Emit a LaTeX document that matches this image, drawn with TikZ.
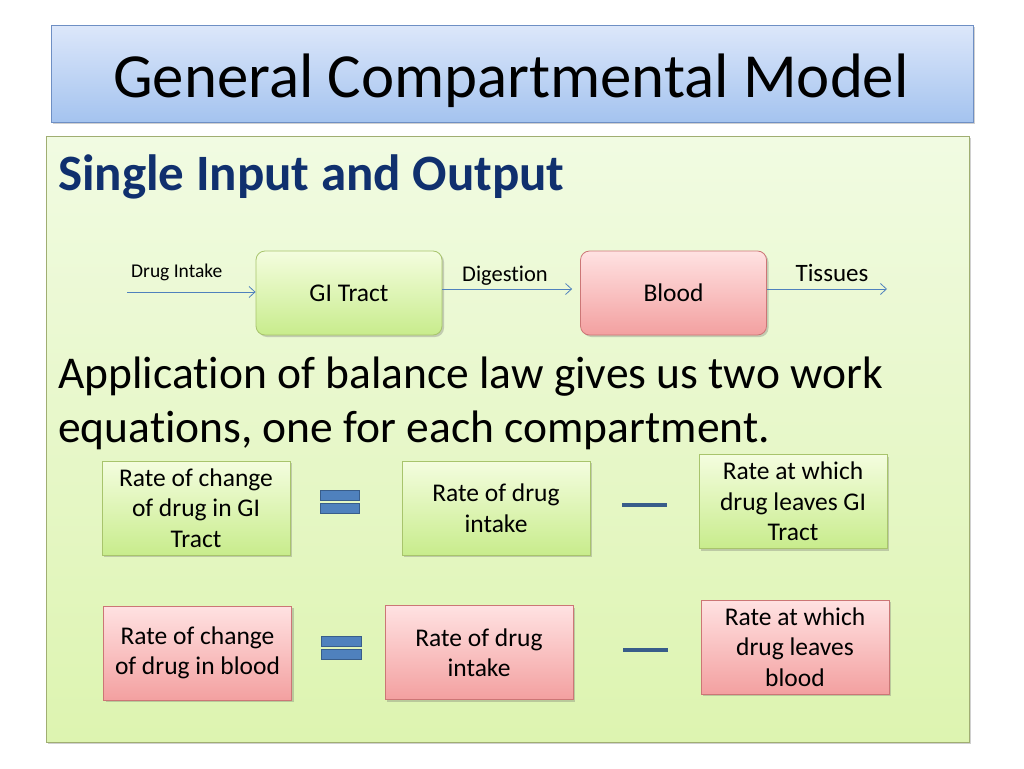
\documentclass[tikz,border=0pt]{standalone}
\usepackage{fontspec}
\setmainfont{Carlito}[Ligatures=CommonOff]
\usetikzlibrary{shadows,arrows.meta}
\definecolor{titletop}{HTML}{DCE7FA}
\definecolor{titlebot}{HTML}{A4C3EF}
\definecolor{titleborder}{HTML}{6E8FC4}
\definecolor{paneltop}{HTML}{F1FBE2}
\definecolor{panelbot}{HTML}{DDF4B0}
\definecolor{panelborder}{HTML}{A0AE72}
\definecolor{grtop}{HTML}{F4FDDF}
\definecolor{grbot}{HTML}{C8EC8C}
\definecolor{grborder}{HTML}{A8C46C}
\definecolor{pktop}{HTML}{FFE2E2}
\definecolor{pkbot}{HTML}{F3A0A0}
\definecolor{pkborder}{HTML}{CC7676}
\definecolor{navy}{HTML}{10306E}
\definecolor{arrowblue}{HTML}{4F81BD}
\definecolor{eqborder}{HTML}{385D8A}
\tikzset{
  x=1pt, y=-1pt,
  shad/.style={drop shadow={shadow xshift=2pt, shadow yshift=-2pt, opacity=0.3, fill=black!60}},
  greenbox/.style={shad, draw=grborder, line width=0.8pt, top color=grtop, bottom color=grbot},
  pinkbox/.style={shad, draw=pkborder, line width=0.8pt, top color=pktop, bottom color=pkbot},
  compbox/.style={rounded corners=9pt, minimum width=186pt, minimum height=84pt, inner sep=0pt,
    font=\fontsize{25.5}{28}\selectfont},
  eqbox/.style={minimum width=188pt, minimum height=94pt, inner sep=0pt, align=center,
    font=\fontsize{25.5}{30.5}\selectfont},
  flow/.style={draw=arrowblue, line width=0.8pt, -{Straight Barb[length=6pt,width=11pt,line width=0.8pt]}},
  lbl/.style={inner sep=0pt, text=black},
  eqbar/.style={draw=eqborder, fill=arrowblue, line width=1pt},
}
\begin{document}
\begin{tikzpicture}
\useasboundingbox (0,0) rectangle (1024,768);
\fill[white] (0,0) rectangle (1024,768);
% title
\node[shad, draw=titleborder, line width=0.8pt, top color=titletop, bottom color=titlebot,
  minimum width=922pt, minimum height=97pt, inner sep=0pt, anchor=north west] (title) at (51,25) {};
\node[lbl, anchor=base, font=\fontsize{62.8}{66}\selectfont] (ttext) at (511,97) {General Compartmental Model};
% panel
\node[shad, draw=panelborder, line width=0.8pt, top color=paneltop, bottom color=panelbot,
  minimum width=923pt, minimum height=606pt, inner sep=0pt, anchor=north west] (panel) at (46,136) {};
\node[lbl, anchor=base west, text=navy, font=\fontsize{51}{54}\selectfont\bfseries] (head) at (58,190.5) {Single Input and Output};
% flow
\node[greenbox, compbox] (gi) at (349,293) {GI Tract};
\node[pinkbox, compbox] (blood) at (673.5,293) {Blood};
\coordinate (in) at (127,292);
\coordinate (tis) at (887,289);
\draw[flow] (in) -- (in -| gi.west);
\draw[flow] ([yshift=4pt]gi.east) -- ([xshift=-8pt,yshift=4pt]blood.west);
\draw[flow] ([yshift=4pt]blood.east) -- (tis);
\node[lbl, anchor=base west, font=\fontsize{19.5}{21}\selectfont] (lin) at (131,277) {Drug Intake};
\node[lbl, anchor=base, font=\fontsize{22.5}{24}\selectfont] (ldig) at (505,281) {Digestion};
\node[lbl, anchor=base, font=\fontsize{25}{27}\selectfont] (ltis) at (832,281) {Tissues};
% text
\node[lbl, anchor=base west, font=\fontsize{45.5}{50}\selectfont] (app1) at (58,388)
  {Application of balance law gives us two work};
\node[lbl, anchor=base west, font=\fontsize{45.5}{50}\selectfont] (app2) at (58,442)
  {equations, one for each compartment.};
% equations row 1
\node[greenbox, eqbox] (e1) at (196,508) {Rate of change\\of drug in GI\\Tract};
\node[greenbox, eqbox] (e2) at (496,508) {Rate of drug\\intake};
\node[greenbox, eqbox] (e3) at (793,501.5) {Rate at which\\drug leaves GI\\Tract};
\path[eqbar] (320,490) rectangle (359,500);
\path[eqbar] (320,503) rectangle (359,513);
\draw[draw=eqborder, line width=4pt] (622,505) -- (667,505);
% equations row 2
\node[pinkbox, eqbox] (p1) at (197.5,653) {Rate of change\\of drug in blood};
\node[pinkbox, eqbox] (p2) at (479,652.5) {Rate of drug\\intake};
\node[pinkbox, eqbox] (p3) at (795,647) {Rate at which\\drug leaves\\blood};
\path[eqbar] (321,636) rectangle (361,646);
\path[eqbar] (321,649) rectangle (361,659);
\draw[draw=eqborder, line width=4pt] (623,650) -- (668,650);
\end{tikzpicture}
\end{document}
